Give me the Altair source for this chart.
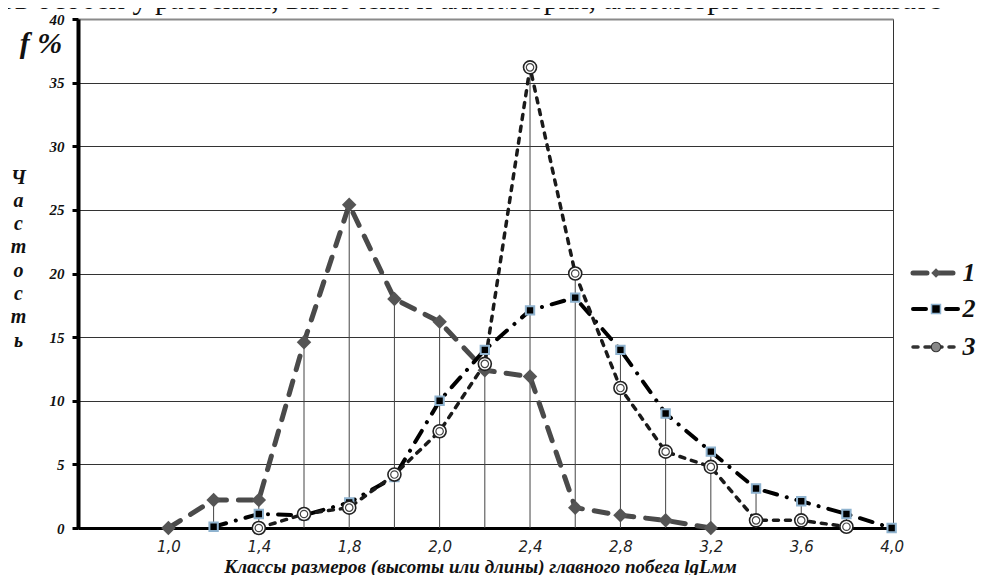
import altair as alt
import pandas as pd

# ---- data ----
size_class = list(range(17))                       # category positions along the x axis
tick_positions = [0, 2, 4, 6, 8, 10, 12, 14, 16]
tick_labels = ["1,0", "1,4", "1,8", "2,0", "2,4", "2,8", "3,2", "3,6", "4,0"]
series_names = ["1", "2", "3"]
s1 = [0.0, 2.2, 2.2, 14.6, 25.4, 18.0, 16.2, 12.4, 11.9, 1.6, 1.0, 0.6, 0.0, None, None, None, None]
s2 = [None, 0.1, 1.1, 1.0, 2.0, 4.0, 10.0, 14.0, 17.1, 18.1, 14.0, 9.0, 6.0, 3.1, 2.1, 1.1, 0.0]
s3 = [None, None, 0.0, 1.1, 1.6, 4.2, 7.6, 12.9, 36.2, 20.0, 11.0, 6.0, 4.8, 0.6, 0.6, 0.1, None]
y_ticks = [0, 5, 10, 15, 20, 25, 30, 35, 40]

x_title = "Классы размеров (высоты или длины) главного побега lgLмм"
y_title_letters = ["Ч", "а", "с", "т", "о", "с", "т", "ь"]
unit_label = "f %"
top_text = "ов особей у растений, включена и аллометрия, аллометрические показате"

rows = []
for name, vals in zip(series_names, [s1, s2, s3]):
    for c, v in zip(size_class, vals):
        if v is not None:
            rows.append({"cls": c, "f": v, "series": name})
df = pd.DataFrame(rows)
drop = df.groupby("cls", as_index=False)["f"].max()
dummy = pd.DataFrame({"a": [0]})

SERIF = "Liberation Serif"
label_expr = ("[" + ",".join("'%s'" % t for t in tick_labels) + "][indexof("
              + str(tick_positions) + ", datum.value)]")

X = alt.X(
    "cls:Q",
    scale=alt.Scale(domain=[-2, 16.03], nice=False, zero=False),
    axis=alt.Axis(
        values=tick_positions, labelExpr=label_expr, grid=False,
        ticks=False, tickSize=0, labelPadding=11,
        labelFont="DejaVu Sans", labelFontStyle="italic", labelFontSize=15,
        labelColor="#222", domainColor="#000", domainWidth=3,
        title=x_title, titleFont=SERIF, titleFontSize=19,
        titleFontStyle="italic", titleFontWeight="bold", titleColor="#111",
        titleX=402, titleY=44, titleBaseline="alphabetic", titleAlign="center",
    ),
)
Y = alt.Y(
    "f:Q",
    scale=alt.Scale(domain=[0, 40], nice=False),
    axis=alt.Axis(
        values=y_ticks, grid=True,
        gridColor={"condition": {"test": "datum.value === 40", "value": "#8a8a8a"}, "value": "#333"},
        gridWidth={"condition": {"test": "datum.value === 40", "value": 2}, "value": 1},
        tickSize=6, tickWidth=3, tickColor="#000",
        domainColor="#000", domainWidth=4,
        labelFont=SERIF, labelFontSize=15, labelFontStyle="italic",
        labelFontWeight="bold", labelColor="#111", labelPadding=8,
        title=y_title_letters, titleAngle=0, titleX=-60, titleY=148,
        titleBaseline="top", titleAlign="center", titleLineHeight=23.3,
        titleFont=SERIF, titleFontSize=20, titleFontStyle="italic",
        titleFontWeight="bold", titleColor="#111",
    ),
)

base = alt.Chart(df).encode(x=X, y=Y)

drops = alt.Chart(drop).mark_rule(color="#444", strokeWidth=1).encode(
    x=X, y=Y, y2=alt.datum(0)
)

f1 = alt.datum.series == "1"
f2 = alt.datum.series == "2"
f3 = alt.datum.series == "3"

line1 = base.transform_filter(f1).mark_line(
    color="#4a4a4a", strokeWidth=5, strokeDash=[14, 12], strokeCap="round")
line2 = base.transform_filter(f2).mark_line(
    color="#000", strokeWidth=4, strokeDash=[13, 10, 0.1, 10], strokeCap="round")
line3 = base.transform_filter(f3).mark_line(
    color="#1a1a1a", strokeWidth=3.5, strokeDash=[5, 7], strokeCap="round")

pts1 = base.transform_filter(f1).mark_point(
    shape="diamond", filled=True, size=210, color="#555", opacity=1)
pts2 = base.transform_filter(f2).mark_point(
    shape="square", filled=True, size=70, fill="#000", stroke="#8fb3cf",
    strokeWidth=2, opacity=1)
pts3o = base.transform_filter(f3).mark_point(
    shape="circle", filled=True, size=170, fill="#fff", stroke="#222",
    strokeWidth=1.6, opacity=1)
pts3i = base.transform_filter(f3).mark_point(
    shape="circle", filled=False, size=55, stroke="#444", strokeWidth=1.2, opacity=1)

# ---- legend (drawn with marks) ----
leg = alt.Chart(dummy)
LX0, LX1, LXM, LXT = 835, 880, 858, 891
LY = [254, 290, 328]
leg1_line = leg.mark_rule(color="#4a4a4a", strokeWidth=5, strokeDash=[14, 12], strokeCap="round").encode(
    x=alt.value(LX0), x2=alt.value(LX1), y=alt.value(LY[0]))
leg1_pt = leg.mark_point(shape="diamond", filled=True, size=90, color="#555", opacity=1).encode(
    x=alt.value(LXM), y=alt.value(LY[0]))
leg2_line = leg.mark_rule(color="#000", strokeWidth=4, strokeDash=[13, 10, 0.1, 10], strokeCap="round").encode(
    x=alt.value(LX0), x2=alt.value(LX1), y=alt.value(LY[1]))
leg2_pt = leg.mark_point(shape="square", filled=True, size=80, fill="#000", stroke="#8fb3cf",
                         strokeWidth=1.5, opacity=1).encode(x=alt.value(LXM), y=alt.value(LY[1]))
leg3_line = leg.mark_rule(color="#333", strokeWidth=3.5, strokeDash=[5, 7], strokeCap="round").encode(
    x=alt.value(LX0), x2=alt.value(LX1), y=alt.value(LY[2]))
leg3_pt = leg.mark_point(shape="circle", filled=True, size=90, fill="#888", stroke="#333",
                         strokeWidth=1.2, opacity=1).encode(x=alt.value(LXM), y=alt.value(LY[2]))
leg_text = [
    leg.mark_text(text=name, font=SERIF, fontSize=26, fontStyle="italic", fontWeight="bold",
                  color="#111", align="center", baseline="middle").encode(
        x=alt.value(LXT), y=alt.value(yy))
    for name, yy in zip(series_names, LY)
]

unit = leg.mark_text(text=unit_label, font=SERIF, fontSize=30, fontStyle="italic",
                     fontWeight="bold", color="#111", align="center", baseline="alphabetic").encode(
    x=alt.value(-37), y=alt.value(34))
top = leg.mark_text(text=top_text, font=SERIF, fontSize=30, color="#111",
                    align="left", baseline="alphabetic").encode(
    x=alt.value(-78), y=alt.value(-10))

chart = alt.layer(
    drops, line1, line2, line3, pts1, pts2, pts3o, pts3i,
    leg1_line, leg1_pt, leg2_line, leg2_pt, leg3_line, leg3_pt, *leg_text, unit, top,
).properties(
    width=815, height=509,
    padding={"left": 70, "top": 11, "right": 85, "bottom": 47},
    autosize=alt.AutoSizeParams(type="none"),
    background="#ffffff",
).configure_view(stroke="#333", strokeWidth=1)

chart.save("out.html", embed_options={"renderer": "svg", "actions": False})
